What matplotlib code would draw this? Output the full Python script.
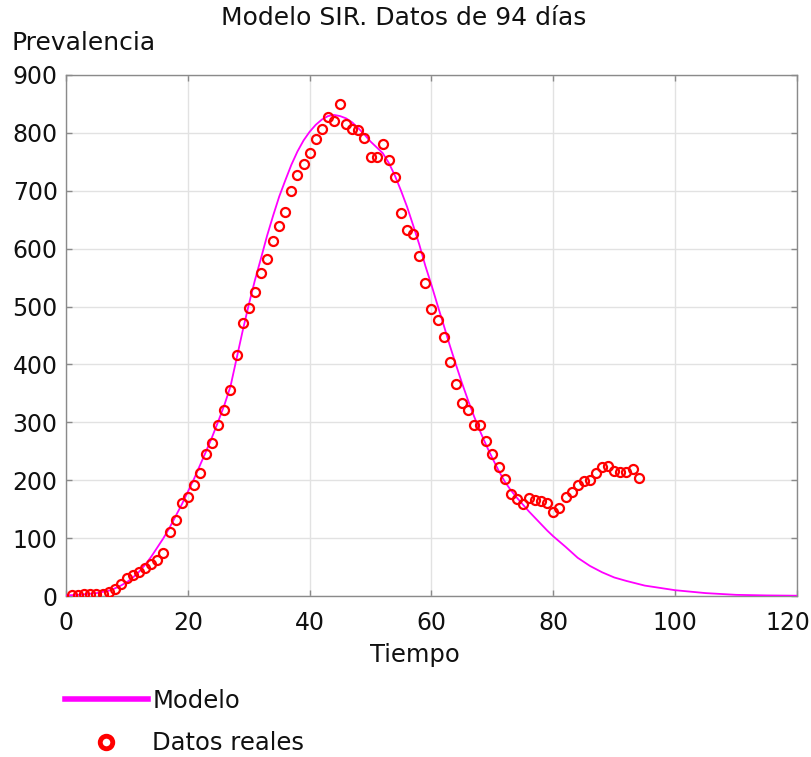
import matplotlib
matplotlib.use("Agg")
import matplotlib.pyplot as plt
from matplotlib.lines import Line2D
from matplotlib.transforms import ScaledTranslation

# ---- data ----
days = list(range(1, 95))
prevalencia = [2, 2, 3, 3, 3, 4, 7, 12, 20, 31,
               36, 42, 49, 56, 63, 74, 111, 131, 161, 171,
               192, 212, 246, 265, 296, 322, 356, 417, 471, 497,
               526, 558, 583, 613, 639, 663, 699, 727, 746, 766,
               789, 807, 828, 820, 850, 815, 807, 805, 792, 758,
               758, 780, 754, 724, 661, 633, 625, 588, 540, 495,
               477, 448, 404, 367, 334, 321, 296, 296, 268, 246,
               223, 202, 176, 167, 159, 170, 166, 164, 161, 145,
               152, 171, 180, 192, 198, 200, 212, 223, 225, 216,
               215, 215, 219, 203]

t_model = [0, 1, 2, 3, 4, 5, 6, 7, 8, 9, 10, 11, 12, 13, 14, 15, 16, 17, 18, 19,
           20, 21, 22, 23, 24, 25, 26, 27, 28, 29, 30, 31, 32, 33, 34, 35, 36, 37,
           38, 39, 40, 41, 42, 43, 44, 45, 46, 47, 48, 49, 50, 51, 52, 53, 54, 55,
           56, 57, 58, 59, 60, 61, 62, 63, 64, 65, 66, 67, 68, 69, 70, 71, 72, 73,
           74, 75, 76, 77, 78, 79, 80, 82, 84, 86, 88, 90, 92, 95, 100, 105, 110,
           115, 120]
modelo = [1, 1.5, 2, 3, 4, 5, 7, 9, 13, 18, 24, 32, 42, 54, 68, 84, 100, 118, 138, 158,
          180, 202, 226, 250, 275, 302, 330, 362, 410, 458, 503, 545, 583, 622, 657, 690,
          718, 745, 768, 787, 802, 814, 823, 829, 831, 829, 825, 818, 808, 797, 785,
          775, 765, 748, 726, 700, 672, 640, 607, 570, 537, 502, 468, 433, 400, 368,
          338, 310, 284, 260, 238, 217, 198, 183, 170, 158, 146, 135, 124, 113, 103,
          85, 66, 52, 41, 32, 26, 18, 10, 5, 2, 1, 0.5]

xticks = [0, 20, 40, 60, 80, 100, 120]
yticks = [0, 100, 200, 300, 400, 500, 600, 700, 800, 900]

# ---- figure ----
W, H = 812, 757
fig = plt.figure(figsize=(W / 100, H / 100), dpi=100)
plt.rcParams['font.family'] = ['DejaVu Sans']
fs_tick = 17
fs_text = 17.5
txt_col = '#111111'

ax = fig.add_axes([66 / W, 1 - 596 / H, (797 - 66) / W, (596 - 75) / H])

ax.plot(t_model, modelo, color='#FF00FF', lw=1.3, zorder=3)
ax.plot(days, prevalencia, ls='none', marker='o', ms=6.5, mfc='none',
        mec='#FF0000', mew=1.6, zorder=4)

ax.set_xlim(0, 120)
ax.set_ylim(0, 900)
ax.set_xticks(xticks)
ax.set_yticks(yticks)
ax.grid(True, color='#e2e2e2', lw=1.0, zorder=0)
ax.set_axisbelow(True)
for s in ax.spines.values():
    s.set_color('#8a8a8a')
    s.set_linewidth(1.0)
ax.tick_params(direction='in', length=4, width=1, color='#8a8a8a',
               top=True, right=True, labelsize=fs_tick, labelcolor=txt_col)
ax.tick_params(axis='x', pad=11)
ax.tick_params(axis='y', pad=6)

fig.canvas.draw()
last = ax.get_xticklabels()[-1]
last.set_transform(last.get_transform() + ScaledTranslation(-9 / 100, 0, fig.dpi_scale_trans))

ax.set_xlabel('Tiempo', fontsize=fs_text, color=txt_col)
ax.xaxis.set_label_coords((415 - 66) / (797 - 66), (596 - 655) / (596 - 75))
ax.xaxis.label.set_va('center')

fig.text(404 / W, 1 - 18 / H, 'Modelo SIR. Datos de 94 días', ha='center', va='center',
         fontsize=fs_text + 0.5, color=txt_col)
fig.text(12 / W, 1 - 43 / H, 'Prevalencia', ha='left', va='center',
         fontsize=fs_text + 0.5, color=txt_col)

handles = [Line2D([], [], color='#FF00FF', lw=4),
           Line2D([], [], ls='none', marker='o', ms=9, mfc='none', mec='#FF0000', mew=3.5)]
leg = fig.legend(handles, ['Modelo', 'Datos reales'], loc='upper left',
                 bbox_to_anchor=(65 / W, 1 - 689 / H), frameon=False, fontsize=fs_text,
                 handlelength=3.4, handletextpad=0.2, labelspacing=0.75,
                 borderpad=0, borderaxespad=0)
for t in leg.get_texts():
    t.set_color(txt_col)

fig.savefig('out.png', dpi=100)
